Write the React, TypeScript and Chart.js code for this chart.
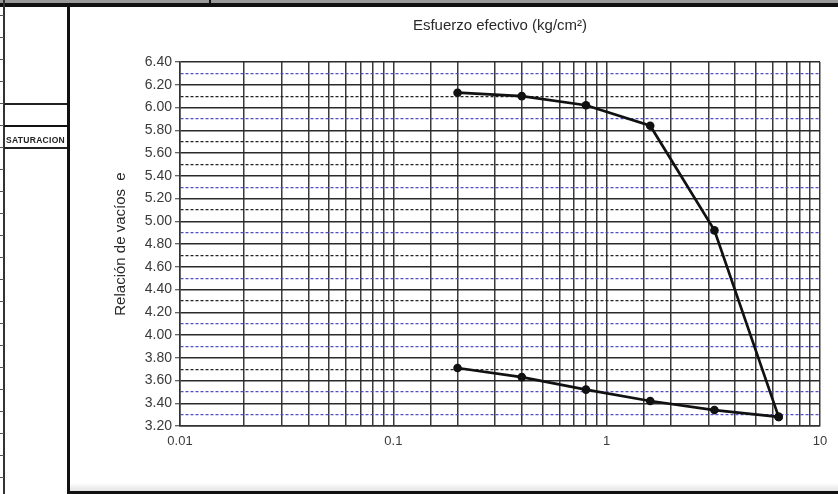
import React, { useEffect, useRef } from 'react';
import { Chart, registerables } from 'chart.js';

Chart.register(...registerables);

// Data
const loadStress = [0.2, 0.4, 0.8, 1.6, 3.2, 6.4];
const loadVoid = [6.13, 6.1, 6.02, 5.84, 4.92, 3.28];
const unloadStress = [6.4, 3.2, 1.6, 0.8, 0.4, 0.2];
const unloadVoid = [3.28, 3.34, 3.42, 3.52, 3.63, 3.71];
const xLabelTicks = [0.01, 0.1, 1, 10];
const yMin = 3.2;
const yMax = 6.4;
const xMin = 0.01;
const xMax = 10;
const xTitle = 'Esfuerzo efectivo (kg/cm²)';
const yTitle = 'Relación de vacíos  e';

const FONT = "'Liberation Sans', Arial, sans-serif";
const blueMinorTenths = [63, 59, 53, 49, 45, 41, 39, 35, 33];

const titlePlugin = {
  id: 'topTitle',
  afterDraw(chart: any) {
    const { ctx, chartArea } = chart;
    ctx.save();
    ctx.font = `15px ${FONT}`;
    ctx.fillStyle = '#2a2a2a';
    ctx.textAlign = 'center';
    ctx.textBaseline = 'middle';
    ctx.fillText(xTitle, (chartArea.left + chartArea.right) / 2, 26);
    ctx.restore();
  },
};

export default function App() {
  const ref = useRef<HTMLCanvasElement | null>(null);

  useEffect(() => {
    document.body.style.margin = '0';
    if (!ref.current) return;
    const isMajorY = (v: number) => Math.round(v * 10) % 2 === 0;
    const chart = new Chart(ref.current, {
      type: 'scatter',
      data: {
        datasets: [
          {
            label: 'Carga',
            data: loadStress.map((x, i) => ({ x, y: loadVoid[i] })),
            showLine: true,
            borderColor: '#111',
            backgroundColor: '#111',
            borderWidth: 2.7,
            pointRadius: 4.3,
            pointBorderWidth: 0,
          },
          {
            label: 'Descarga',
            data: unloadStress.map((x, i) => ({ x, y: unloadVoid[i] })),
            showLine: true,
            borderColor: '#111',
            backgroundColor: '#111',
            borderWidth: 2.7,
            pointRadius: 4.3,
            pointBorderWidth: 0,
          },
        ],
      },
      options: {
        responsive: false,
        animation: false,
        events: [],
        layout: { padding: { left: 106, top: 62, right: 18, bottom: 20 } },
        plugins: {
          legend: { display: false },
          tooltip: { enabled: false },
          title: { display: false },
        },
        scales: {
          x: {
            type: 'logarithmic',
            min: xMin,
            max: xMax,
            afterFit: (s: any) => {
              s.height = 48;
            },
            grid: {
              color: '#3a3a3a',
              lineWidth: 1.5,
              drawTicks: false,
            },
            border: { color: '#333', width: 1.5 },
            ticks: {
              autoSkip: false,
              maxRotation: 0,
              padding: 8,
              color: '#3a3a3a',
              font: { family: FONT, size: 13 },
              callback: (v: any) => {
                const n = Number(v);
                return xLabelTicks.some((t) => Math.abs(t - n) < t * 1e-6) ? String(n) : '';
              },
            },
          },
          y: {
            type: 'linear',
            min: yMin,
            max: yMax,
            afterFit: (s: any) => {
              s.width = 74;
            },
            title: {
              display: true,
              text: yTitle,
              color: '#2a2a2a',
              font: { family: FONT, size: 15 },
              padding: { top: 6, bottom: 0 },
            },
            grid: {
              color: (c: any) => {
                if (!c.tick) return '#333';
                const v = c.tick.value;
                if (isMajorY(v)) return '#2a2a2a';
                return blueMinorTenths.includes(Math.round(v * 10)) ? '#5050c0' : '#222';
              },
              lineWidth: (c: any) => (c.tick && !isMajorY(c.tick.value) ? 1.2 : 1.5),
              tickLength: 5,
              tickColor: (c: any) => (c.tick && isMajorY(c.tick.value) ? '#333' : 'rgba(0,0,0,0)'),
              tickWidth: 1,
            },
            border: {
              color: '#333',
              width: 1.5,
              dash: (c: any) => (c.tick && !isMajorY(c.tick.value) ? [3, 2] : []),
            },
            ticks: {
              stepSize: 0.1,
              autoSkip: false,
              padding: 3,
              color: '#3a3a3a',
              font: { family: FONT, size: 14 },
              callback: (v: any) => (isMajorY(Number(v)) ? Number(v).toFixed(2) : ''),
            },
          },
        },
      },
      plugins: [titlePlugin],
    } as any);
    return () => chart.destroy();
  }, []);

  const leftTicks: number[] = [];
  for (let y = 15; y < 494; y += 22) leftTicks.push(y);

  return (
    <div style={{ position: 'fixed', left: 0, top: 0, width: 838, height: 494, background: '#fff', overflow: 'hidden' }}>
      <canvas ref={ref} width={838} height={494} style={{ position: 'absolute', left: 0, top: 0, width: 838, height: 494 }} />
      {/* top band */}
      <div style={{ position: 'absolute', left: 0, top: 0, width: 838, height: 3, background: '#9a9a9a' }} />
      <div style={{ position: 'absolute', left: 0, top: 3, width: 838, height: 4, background: '#111' }} />
      <div style={{ position: 'absolute', left: 209, top: 0, width: 2, height: 4, background: '#111' }} />
      {/* left column */}
      <div style={{ position: 'absolute', left: 3, top: 0, width: 2, height: 494, background: '#333' }} />
      {leftTicks.map((y) => (
        <div key={y} style={{ position: 'absolute', left: 0, top: y, width: 4, height: 1, background: '#555' }} />
      ))}
      <div style={{ position: 'absolute', left: 4, top: 103, width: 64, height: 1.5, background: '#222' }} />
      <div style={{ position: 'absolute', left: 4, top: 125, width: 64, height: 2, background: '#111' }} />
      <div style={{ position: 'absolute', left: 4, top: 147, width: 64, height: 1.5, background: '#222' }} />
      <div
        style={{
          position: 'absolute',
          left: 6,
          top: 136,
          fontFamily: FONT,
          fontSize: 8.5,
          fontWeight: 'bold',
          color: '#222',
          letterSpacing: 0.3,
          whiteSpace: 'nowrap',
          lineHeight: '9px',
        }}
      >
        SATURACION
      </div>
      {/* frame */}
      <div style={{ position: 'absolute', left: 67, top: 6, width: 3, height: 488, background: '#111' }} />
      <div style={{ position: 'absolute', left: 67, top: 491, width: 771, height: 3, background: '#111' }} />
      <div style={{ position: 'absolute', left: 70, top: 483, width: 768, height: 8, background: 'linear-gradient(#fff, #e4e4e4)' }} />
    </div>
  );
}
